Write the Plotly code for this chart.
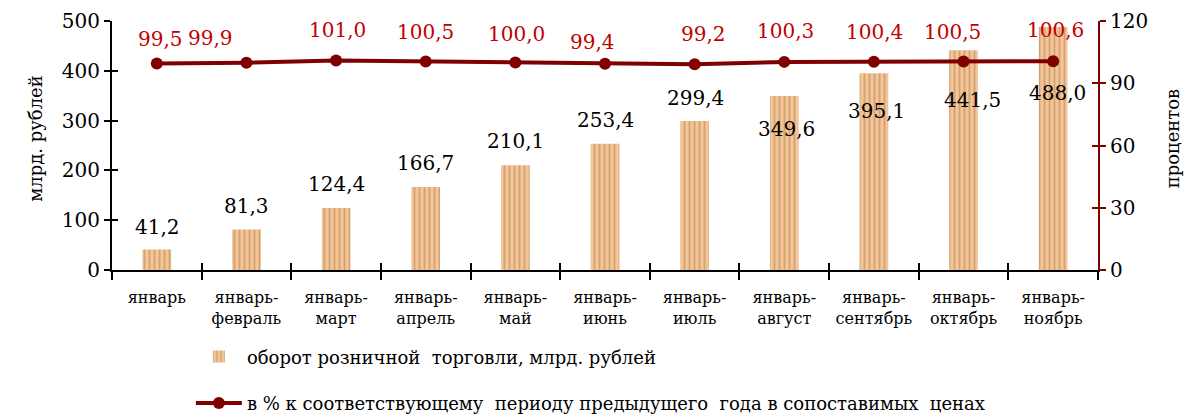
import plotly.graph_objects as go

# Data
CATEGORIES = ['январь', 'январь-<br>февраль', 'январь-<br>март', 'январь-<br>апрель',
              'январь-<br>май', 'январь-<br>июнь', 'январь-<br>июль', 'январь-<br>август',
              'январь-<br>сентябрь', 'январь-<br>октябрь', 'январь-<br>ноябрь']
TURNOVER = [41.2, 81.3, 124.4, 166.7, 210.1, 253.4, 299.4, 349.6, 395.1, 441.5, 488.0]
PERCENT = [99.5, 99.9, 101.0, 100.5, 100.0, 99.4, 99.2, 100.3, 100.4, 100.5, 100.6]
Y1_TICKS = [0, 100, 200, 300, 400, 500]
Y2_TICKS = [0, 30, 60, 90, 120]

# Label placement (pixel shifts from the mark)
BAR_LABEL_DX = [1, 0, 0, 0, 0, 0, 1, 2, 3, 9, 4]
BAR_LABEL_DY = [22, 24, 24, 24, 24, 24, 23, -33, -38, -50, -66]
PCT_LABEL_DX = [4, -36, 1, 0, 1, -13, 9, 1, 1, -11, 2]
PCT_LABEL_DY = [25, 25, 30, 29, 29, 22, 30, 31, 30, 29, 31]

FONT = 'DejaVu Serif'
LINE_COLOR = '#800000'
LABEL_RED = '#c00000'
BAR_COLOR = '#f3c597'
BAR_STRIPE = '#d2a272'


def fmt(v):
    return f'{v:.1f}'.replace('.', ',')


def font(size, color='black'):
    return dict(family=FONT, size=size, color=color)


fig = go.Figure()

fig.add_trace(go.Bar(
    x=CATEGORIES, y=TURNOVER,
    name='оборот розничной  торговли, млрд. рублей',
    width=0.32,
    marker=dict(color=BAR_COLOR, line=dict(width=0),
                pattern=dict(shape='|', bgcolor=BAR_COLOR, fgcolor=BAR_STRIPE,
                             fgopacity=1, size=5, solidity=0.35)),
    legend='legend',
))

fig.add_trace(go.Scatter(
    x=CATEGORIES, y=PERCENT, yaxis='y2',
    name='в % к соответствующему  периоду предыдущего  года в сопоставимых  ценах',
    mode='lines+markers',
    line=dict(color=LINE_COLOR, width=4),
    marker=dict(color=LINE_COLOR, size=12),
    legend='legend2',
))

# empty traces so the overlay axes (inward half of the ticks) get drawn
fig.add_trace(go.Scatter(x=CATEGORIES, y=[None] * len(CATEGORIES), xaxis='x2', yaxis='y3',
                         showlegend=False, hoverinfo='skip'))
fig.add_trace(go.Scatter(x=CATEGORIES, y=[None] * len(CATEGORIES), yaxis='y4',
                         showlegend=False, hoverinfo='skip'))

annotations = []
for c, v, dx, dy in zip(CATEGORIES, TURNOVER, BAR_LABEL_DX, BAR_LABEL_DY):
    annotations.append(dict(x=c, y=v, xref='x', yref='y', text=fmt(v), showarrow=False,
                            xshift=dx, yshift=dy, font=font(20)))
for c, v, dx, dy in zip(CATEGORIES, PERCENT, PCT_LABEL_DX, PCT_LABEL_DY):
    annotations.append(dict(x=c, y=v, xref='x', yref='y2', text=fmt(v), showarrow=False,
                            xshift=dx, yshift=dy, font=font(20, LABEL_RED)))

# axis titles
annotations.append(dict(x=-0.091, y=0.53, xref='paper', yref='paper', text='млрд. рублей',
                        textangle=-90, showarrow=False, font=font(18)))
annotations.append(dict(x=1.088, y=0.53, xref='paper', yref='paper', text='процентов',
                        textangle=-90, showarrow=False, font=font(18)))

# page body has an 8px margin, so margins are shifted by it and the
# figure is taller than the window (bottom part is cut off anyway)
fig.update_layout(
    template='none',
    width=1195, height=440,
    margin=dict(l=104, r=105, t=13, b=178),
    paper_bgcolor='white', plot_bgcolor='white',
    font=font(18),
    xaxis=dict(type='category', tickson='boundaries', ticks='outside', ticklen=8,
               tickwidth=2, tickcolor='black', showline=True, linecolor='black',
               linewidth=2, showgrid=False, range=[-0.5, 10.5], tickangle=0,
               ticklabelstandoff=12, tickfont=font(16)),
    xaxis2=dict(type='category', overlaying='x', matches='x', anchor='y3', side='bottom',
                tickson='boundaries', ticks='inside', ticklen=7, tickwidth=2,
                tickcolor='black', showticklabels=False, showline=False, showgrid=False),
    yaxis=dict(range=[0, 500], tickvals=Y1_TICKS, ticks='outside', ticklen=6, tickwidth=2,
               tickcolor='black', showline=True, linecolor='black', linewidth=2,
               showgrid=False, zeroline=False, tickfont=font(20)),
    yaxis3=dict(range=[0, 500], tickvals=Y1_TICKS, overlaying='y', anchor='x', side='left',
                ticks='inside', ticklen=6, tickwidth=2, tickcolor='black',
                showticklabels=False, showline=False, showgrid=False, zeroline=False),
    yaxis2=dict(range=[0, 120], tickvals=Y2_TICKS, overlaying='y', side='right',
                ticks='outside', ticklen=6, tickwidth=2, tickcolor=LINE_COLOR,
                showline=True, linecolor=LINE_COLOR, linewidth=2, showgrid=False,
                zeroline=False, tickfont=font(20)),
    yaxis4=dict(range=[0, 120], tickvals=Y2_TICKS, overlaying='y', anchor='x', side='right',
                ticks='inside', ticklen=6, tickwidth=2, tickcolor=LINE_COLOR,
                showticklabels=False, showline=False, showgrid=False, zeroline=False),
    legend=dict(x=0.08, y=-0.349, xanchor='left', yanchor='middle', itemwidth=46,
                font=font(18), bgcolor='rgba(0,0,0,0)'),
    legend2=dict(x=0.08, y=-0.535, xanchor='left', yanchor='middle', itemwidth=46,
                 font=font(18), bgcolor='rgba(0,0,0,0)'),
    bargap=0.68,
    annotations=annotations,
)

fig.write_html('out.html')
